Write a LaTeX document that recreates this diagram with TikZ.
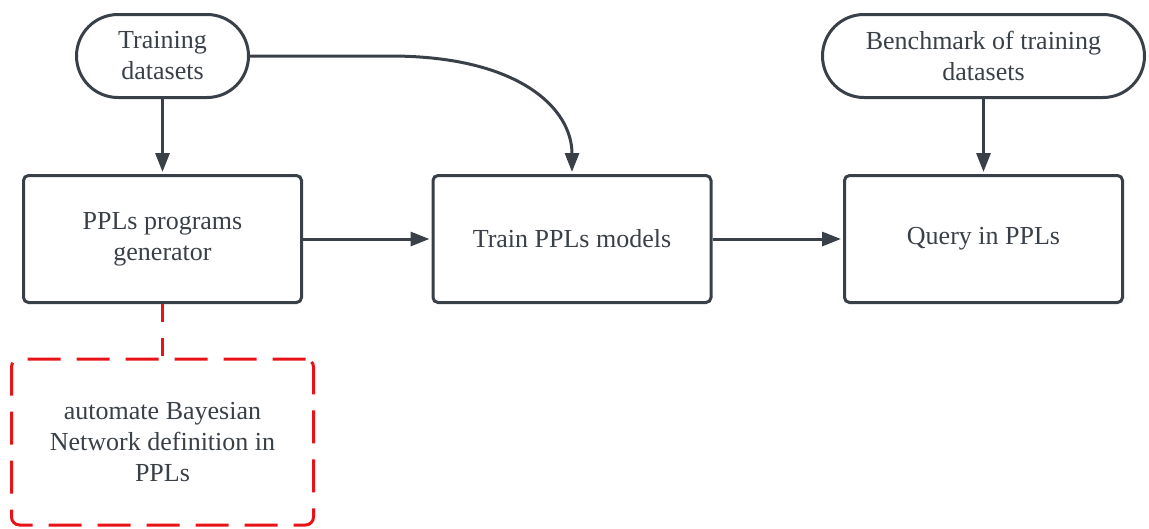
\documentclass[tikz,border=0pt]{standalone}
\usepackage{fontspec}
\setmainfont{Liberation Serif}
\usetikzlibrary{arrows.meta,calc}
\definecolor{ink}{RGB}{58,64,72}
\definecolor{alert}{RGB}{232,19,22}
\tikzset{
  base/.style={draw=ink, line width=3pt, text=ink, align=center, inner sep=0pt,
    font=\fontsize{26pt}{31pt}\selectfont},
  terminal/.style={base, rectangle, rounded corners=41.5pt, minimum height=83pt},
  procbox/.style={base, rectangle, rounded corners=5pt, minimum width=278pt, minimum height=127pt},
  notebox/.style={base, draw=alert, rectangle, rounded corners=8pt, dash pattern=on 33pt off 16pt,
    minimum width=302pt, minimum height=166pt},
  flow/.style={draw=ink, line width=3pt, shorten >=2pt,
    -{Triangle[length=19pt,width=14pt]}},
  link/.style={draw=alert, line width=3pt, dash pattern=on 18pt off 16pt},
}
\begin{document}
\begin{tikzpicture}[x=1pt,y=-1pt]
\useasboundingbox (0,0) rectangle (1149,528);

% sources
\node[terminal, minimum width=172pt] (data) at (162.5,56) {Training\\datasets};
\node[terminal, minimum width=322pt] (bench) at (983.5,56) {Benchmark of training\\datasets};

% pipeline
\node[procbox] (gen) at (162.5,239) {PPLs programs\\generator};
\node[procbox] (train) at (572,239) {Train PPLs models};
\node[procbox] (query) at (983.5,239) {Query in PPLs};

% annotation
\node[notebox] (auto) at (162.5,442) {automate Bayesian\\Network definition in\\PPLs};

% connectors
\coordinate (bend) at (390,56);
\draw[flow] (data) -- (gen);
\draw[flow] (data.east) -- (bend)
  .. controls ($(bend)+(130,0)$) and ($(train.north)+(0,-65)$) .. (train.north);
\draw[flow] (gen) -- (train);
\draw[flow] (train) -- (query);
\draw[flow] (bench) -- (query);
\draw[link] (gen.south) -- (auto.north);
\end{tikzpicture}
\end{document}
